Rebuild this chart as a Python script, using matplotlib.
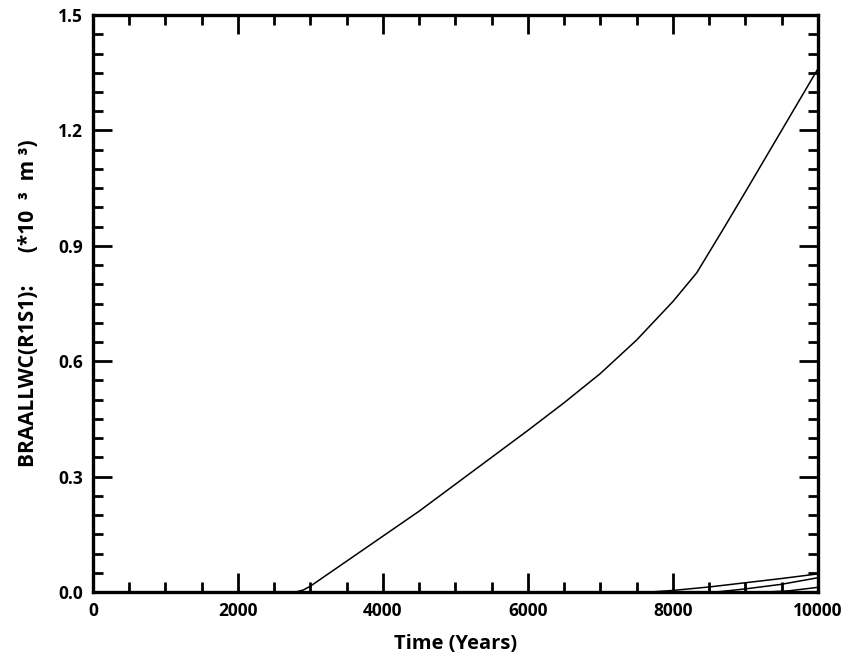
import matplotlib
matplotlib.use("Agg")
import matplotlib.pyplot as plt
from matplotlib.ticker import MultipleLocator

plt.rcParams['font.family'] = ['Open Sans', 'DejaVu Sans']

# Main curve (BRAALLWC R1S1)
t_main = [0, 2500, 2800, 2900, 3000, 3500, 4000, 4500, 5000, 5500, 6000, 6500, 7000, 7500, 8000, 8330, 8700, 9000, 9500, 10000]
v_main = [0, 0, 0.0, 0.005, 0.015, 0.08, 0.145, 0.21, 0.28, 0.35, 0.42, 0.492, 0.568, 0.655, 0.755, 0.83, 0.945, 1.04, 1.20, 1.36]

# Small curves near the bottom
t_a = [0, 7700, 8000, 8500, 9000, 9500, 10000]
v_a = [0, 0, 0.004, 0.013, 0.024, 0.035, 0.047]
t_b = [0, 8600, 9000, 9500, 10000]
v_b = [0, 0, 0.008, 0.02, 0.037]
t_c = [0, 9300, 9600, 10000]
v_c = [0, 0, 0.003, 0.012]

xticks = [0, 2000, 4000, 6000, 8000, 10000]
xtick_labels = ['0', '2000', '4000', '6000', '8000', '10000']
yticks = [0.0, 0.3, 0.6, 0.9, 1.2, 1.5]
ytick_labels = ['0.0', '0.3', '0.6', '0.9', '1.2', '1.5']

fig = plt.figure(figsize=(8.44, 6.56), dpi=100)
ax = fig.add_axes([0.110, 0.0976, 0.859, 0.8794])

for t, v in [(t_main, v_main), (t_a, v_a), (t_b, v_b), (t_c, v_c)]:
    ax.plot(t, v, color='black', lw=1.1)

ax.set_xlim(0, 10000)
ax.set_ylim(0, 1.5)
ax.xaxis.set_minor_locator(MultipleLocator(500))
ax.yaxis.set_minor_locator(MultipleLocator(0.05))
ax.tick_params(which='both', direction='in', top=True, right=True, width=2.0, colors='black')
ax.tick_params(which='major', length=14, labelsize=12.5, pad=7)
ax.tick_params(which='minor', length=7)
ax.set_xticks(xticks)
ax.set_xticklabels(xtick_labels, fontweight='bold')
ax.set_yticks(yticks)
ax.set_yticklabels(ytick_labels, fontweight='bold')
for s in ax.spines.values():
    s.set_linewidth(2.4)

ax.set_xlabel('Time (Years)', fontsize=14.5, fontweight='bold', labelpad=10)
ax.set_ylabel('BRAALLWC(R1S1):      (*10  \u00b3  m \u00b3)', fontsize=15,
              fontweight='bold', labelpad=14)

fig.savefig('out.png', dpi=100)
